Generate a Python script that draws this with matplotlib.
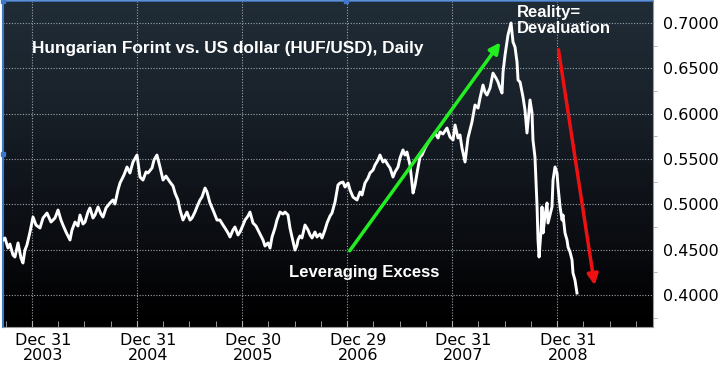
import numpy as np
import matplotlib
matplotlib.use("Agg")
import matplotlib.pyplot as plt
from matplotlib.colors import LinearSegmentedColormap
from matplotlib.transforms import ScaledTranslation

# HUF/USD daily (decimal year, rate)
dates = [2003.724, 2003.743, 2003.771, 2003.790, 2003.819, 2003.838, 2003.867, 2003.895, 2003.914, 2003.933,
         2003.952, 2003.981, 2004.010, 2004.038, 2004.076, 2004.105, 2004.143, 2004.181, 2004.219, 2004.248,
         2004.276, 2004.295, 2004.324, 2004.362, 2004.381, 2004.410, 2004.438, 2004.457, 2004.486, 2004.505,
         2004.533, 2004.552, 2004.581, 2004.600, 2004.629, 2004.657, 2004.676, 2004.705, 2004.743, 2004.771,
         2004.790, 2004.819, 2004.838, 2004.876, 2004.905, 2004.933, 2004.962, 2005.000, 2005.029, 2005.057,
         2005.086, 2005.105, 2005.143, 2005.162, 2005.190, 2005.219, 2005.248, 2005.276, 2005.314, 2005.343,
         2005.362, 2005.390, 2005.410, 2005.438, 2005.476, 2005.505, 2005.524, 2005.552, 2005.571, 2005.600,
         2005.619, 2005.648, 2005.667, 2005.695, 2005.724, 2005.762, 2005.790, 2005.819, 2005.838, 2005.867,
         2005.886, 2005.914, 2005.933, 2005.962, 2005.981, 2006.010, 2006.029, 2006.057, 2006.076, 2006.105,
         2006.133, 2006.152, 2006.181, 2006.200, 2006.219, 2006.248, 2006.267, 2006.286, 2006.314, 2006.333,
         2006.362, 2006.390, 2006.410, 2006.438, 2006.457, 2006.476, 2006.505, 2006.524, 2006.533, 2006.552,
         2006.571, 2006.600, 2006.629, 2006.648, 2006.667, 2006.695, 2006.714, 2006.743, 2006.762, 2006.790,
         2006.810, 2006.838, 2006.857, 2006.886, 2006.914, 2006.933, 2006.962, 2006.981, 2007.010, 2007.029,
         2007.057, 2007.095, 2007.124, 2007.143, 2007.171, 2007.200, 2007.219, 2007.248, 2007.267, 2007.295,
         2007.314, 2007.343, 2007.362, 2007.390, 2007.410, 2007.438, 2007.457, 2007.486, 2007.505, 2007.533,
         2007.552, 2007.571, 2007.600, 2007.629, 2007.648, 2007.667, 2007.695, 2007.714, 2007.743, 2007.771,
         2007.790, 2007.819, 2007.838, 2007.867, 2007.886, 2007.914, 2007.952, 2007.981, 2008.010, 2008.029,
         2008.057, 2008.076, 2008.095, 2008.124, 2008.152, 2008.171, 2008.190, 2008.219, 2008.248, 2008.267,
         2008.295, 2008.314, 2008.333, 2008.362, 2008.390, 2008.419, 2008.438, 2008.457, 2008.476, 2008.486,
         2008.505, 2008.533, 2008.562, 2008.581, 2008.600, 2008.619, 2008.629, 2008.648, 2008.676, 2008.695,
         2008.714, 2008.743, 2008.762, 2008.771, 2008.790, 2008.800, 2008.810, 2008.819, 2008.829, 2008.848,
         2008.857, 2008.867, 2008.886, 2008.905, 2008.914, 2008.933, 2008.952, 2008.962, 2008.981, 2009.000,
         2009.010, 2009.029, 2009.048, 2009.057, 2009.076, 2009.095, 2009.105, 2009.124, 2009.143, 2009.152,
         2009.171, 2009.190]
rate = [0.4607, 0.4629, 0.4518, 0.4562, 0.4441, 0.4419, 0.4574, 0.4408, 0.4353, 0.4496,
        0.4551, 0.4695, 0.4860, 0.4772, 0.4739, 0.4849, 0.4904, 0.4805, 0.4849, 0.4937,
        0.4827, 0.4772, 0.4695, 0.4607, 0.4717, 0.4805, 0.4761, 0.4882, 0.4783, 0.4805,
        0.4915, 0.4960, 0.4849, 0.4882, 0.4971, 0.4893, 0.4860, 0.4960, 0.5015, 0.5048,
        0.5004, 0.5158, 0.5235, 0.5324, 0.5412, 0.5346, 0.5467, 0.5544, 0.5301, 0.5268,
        0.5357, 0.5346, 0.5401, 0.5489, 0.5544, 0.5412, 0.5268, 0.5312, 0.5246, 0.5202,
        0.5125, 0.5048, 0.4937, 0.4827, 0.4915, 0.4827, 0.4849, 0.4915, 0.4971, 0.5048,
        0.5081, 0.5180, 0.5136, 0.5015, 0.4937, 0.4827, 0.4827, 0.4772, 0.4739, 0.4684,
        0.4640, 0.4717, 0.4750, 0.4662, 0.4695, 0.4772, 0.4827, 0.4871, 0.4915, 0.4794,
        0.4761, 0.4717, 0.4651, 0.4607, 0.4540, 0.4574, 0.4518, 0.4640, 0.4739, 0.4827,
        0.4915, 0.4893, 0.4915, 0.4882, 0.4739, 0.4640, 0.4496, 0.4551, 0.4607, 0.4651,
        0.4629, 0.4772, 0.4717, 0.4662, 0.4629, 0.4695, 0.4640, 0.4673, 0.4629, 0.4717,
        0.4794, 0.4871, 0.4904, 0.5026, 0.5213, 0.5235, 0.5246, 0.5191, 0.5235, 0.5158,
        0.5081, 0.5048, 0.5136, 0.5103, 0.5235, 0.5290, 0.5346, 0.5379, 0.5434, 0.5489,
        0.5544, 0.5467, 0.5489, 0.5434, 0.5401, 0.5301, 0.5357, 0.5412, 0.5511, 0.5600,
        0.5544, 0.5577, 0.5434, 0.5125, 0.5213, 0.5346, 0.5522, 0.5544, 0.5621, 0.5677,
        0.5710, 0.5754, 0.5787, 0.5732, 0.5798, 0.5776, 0.5842, 0.5743, 0.5710, 0.5875,
        0.5732, 0.5765, 0.5621, 0.5467, 0.5732, 0.5820, 0.5908, 0.6096, 0.6062, 0.6173,
        0.6316, 0.6239, 0.6206, 0.6283, 0.6448, 0.6393, 0.6349, 0.6283, 0.6228, 0.6459,
        0.6647, 0.6868, 0.7000, 0.6790, 0.6735, 0.6570, 0.6371, 0.6349, 0.6184, 0.6040,
        0.5787, 0.6151, 0.6007, 0.5710, 0.5522, 0.5235, 0.4971, 0.4607, 0.4419, 0.4717,
        0.4971, 0.4684, 0.4882, 0.5015, 0.4794, 0.4882, 0.4971, 0.5268, 0.5412, 0.5346,
        0.5191, 0.4971, 0.4827, 0.4882, 0.4684, 0.4607, 0.4529, 0.4474, 0.4386, 0.4243,
        0.4165, 0.4022]

year_ticks = [2004, 2005, 2006, 2007, 2008, 2009]
year_labels = ["Dec 31\n2003", "Dec 31\n2004", "Dec 30\n2005", "Dec 29\n2006", "Dec 31\n2007", "Dec 31\n2008"]
y_ticks = [0.40, 0.45, 0.50, 0.55, 0.60, 0.65, 0.70]

fig = plt.figure(figsize=(7.2, 3.69), dpi=100)
fig.patch.set_facecolor("white")
ax = fig.add_axes([3 / 720, 1 - 327 / 369, 650 / 720, 326 / 369])

# dark gradient background
bg = LinearSegmentedColormap.from_list("bg", [
    (0.0, (32 / 255, 44 / 255, 54 / 255)),
    (0.28, (26 / 255, 35 / 255, 44 / 255)),
    (0.5, (18 / 255, 23 / 255, 30 / 255)),
    (0.75, (10 / 255, 12 / 255, 16 / 255)),
    (0.9, (3 / 255, 3 / 255, 5 / 255)),
    (1.0, (0, 0, 0))])
grad = np.linspace(0, 1, 256).reshape(-1, 1)
ax.imshow(grad, cmap=bg, aspect="auto", extent=[0, 1, 0, 1], transform=ax.transAxes, zorder=0)

ax.plot(dates, rate, color="white", lw=2.1, zorder=3)

ax.set_xlim(2003.724, 2009.914)
ax.set_ylim(0.3647, 0.7243)

ax.set_xticks(year_ticks)
ax.set_xticklabels(year_labels, fontsize=11.5, color="black", linespacing=1.0)
ax.set_xticks(np.arange(2003.75, 2009.9, 0.25), minor=True)
ax.tick_params(axis="x", which="both", direction="in", length=4, color="#b0b0b0", pad=4.5)
offset = ScaledTranslation(11 / 100, 0, fig.dpi_scale_trans)
for lab in ax.get_xticklabels():
    lab.set_transform(lab.get_transform() + offset)

ax.yaxis.tick_right()
ax.set_yticks(y_ticks)
ax.set_yticklabels(["%.4f" % v for v in y_ticks], fontsize=11.5, color="black")
ax.set_yticks(np.arange(0.375, 0.72, 0.05), minor=True)
ax.tick_params(axis="y", which="major", length=0, pad=7)
ax.tick_params(axis="y", which="minor", direction="out", length=3, color="#aaaaaa")

ax.grid(True, which="major", color="#9aa4aa", linestyle=(0, (1, 1.5)), lw=0.8, zorder=1)

ax.spines["right"].set_color("#9a9a9a")
ax.spines["bottom"].set_color("#9a9a9a")
ax.spines["left"].set_color("#3f78c8")
ax.spines["left"].set_linewidth(1.5)
ax.spines["top"].set_color("#3f78c8")
ax.spines["top"].set_linestyle((0, (1, 1)))
ax.spines["top"].set_linewidth(1.2)
ax.plot([0, 0, 0.528], [1, 0.53, 1], "s", color="#3f78c8", ms=3.5,
        transform=ax.transAxes, clip_on=False, zorder=5)

bold = dict(family="Liberation Sans", fontweight="bold", color="white")
fig.text(32 / 720, 1 - 48 / 369, "Hungarian Forint vs. US dollar (HUF/USD), Daily", va="center",
         fontsize=12.4, **bold)
ax.text(2008.619, 0.7197, "Reality=\nDevaluation", va="top", ha="left", linespacing=1.05, zorder=6,
        fontsize=12, **bold)
ax.text(2006.448, 0.4243, "Leveraging Excess", va="center", ha="left", zorder=6, fontsize=12, **bold)

ax.annotate("", xy=(2008.476, 0.6812), xytext=(2007.010, 0.4463),
            arrowprops=dict(arrowstyle="-|>", color="#22ee22", lw=2.5, mutation_scale=16), zorder=6)
ax.annotate("", xy=(2009.362, 0.4077), xytext=(2009.010, 0.6735),
            arrowprops=dict(arrowstyle="-|>", color="#ee1111", lw=2.5, mutation_scale=16), zorder=6)

fig.savefig("out.png", dpi=100, facecolor="white")
